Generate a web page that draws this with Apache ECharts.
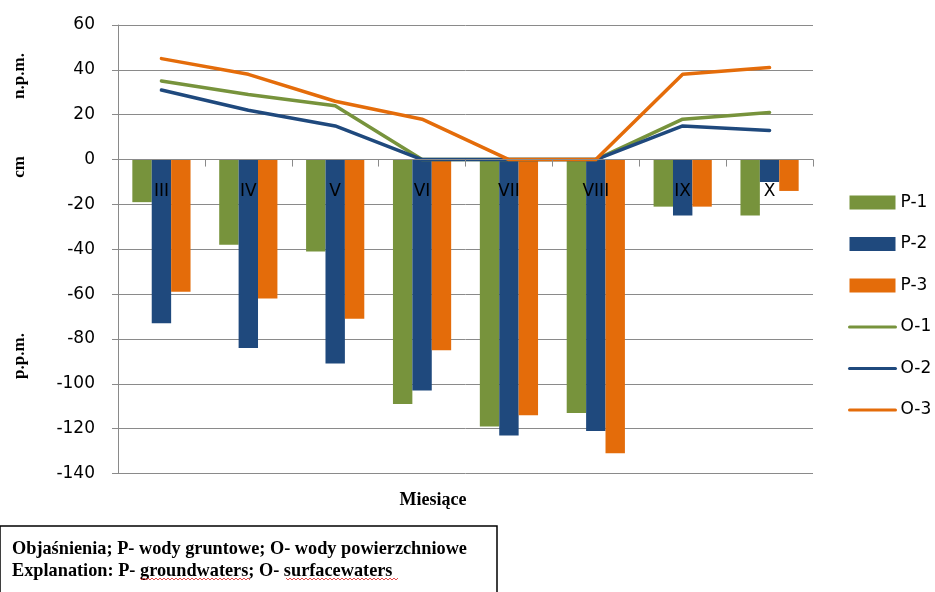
<!DOCTYPE html>
<html>
<head>
<meta charset="utf-8">
<script src="https://cdn.jsdelivr.net/npm/echarts@6/dist/echarts.min.js"></script>
<style>
  html, body { margin: 0; padding: 0; background: #fff; }
  #chart { width: 935px; height: 592px; }
</style>
</head>
<body>
<div id="chart"></div>
<script>
// Months (Roman numerals) on the category axis
const months = ['III', 'IV', 'V', 'VI', 'VII', 'VIII', 'IX', 'X'];

// Groundwater levels (bars), cm below ground
const p1 = [-19, -38, -41, -109, -119, -113, -21, -25];
const p2 = [-73, -84, -91, -103, -123, -121, -25, -10];
const p3 = [-59, -62, -71, -85, -114, -131, -21, -14];

// Surface water levels (lines), cm above ground
const o1 = [35, 29, 24, 0, 0, 0, 18, 21];
const o2 = [31, 22, 15, 0, 0, 0, 15, 13];
const o3 = [45, 38, 26, 18, 0, 0, 38, 41];

// Value axis range
const yMin = -140, yMax = 60, yStep = 20;

const GREEN = '#77933C', BLUE = '#1F497D', ORANGE = '#E46C0A';
const AXIS_GRAY = '#8a8a8a';
const TICK_FONT = 'DejaVu Sans';
const SERIF = 'Liberation Serif';

// Plot area
const GRID_TOP = 25, GRID_BOTTOM = 118.5, CHART_H = 592;
const plotH = CHART_H - GRID_TOP - GRID_BOTTOM;
// distance from the bottom of the plot up to the zero line
const zeroLift = plotH * (0 - yMin) / (yMax - yMin);

const chart = echarts.init(document.getElementById('chart'), null, { renderer: 'canvas' });

function bar(name, data, color) {
  return {
    name, type: 'bar', data,
    barGap: '0%', barCategoryGap: '33%',
    itemStyle: { color },
    z: 2
  };
}
function line(name, data, color) {
  return {
    name, type: 'line', data,
    symbol: 'none',
    lineStyle: { color, width: 3.5, cap: 'round', join: 'round' },
    itemStyle: { color },
    z: 3
  };
}

// Small red wavy underline (spell-check style) under a word
function squiggle(x0, x1, y) {
  const pts = [];
  let up = true;
  for (let x = x0; x <= x1; x += 2) {
    pts.push([x, up ? y : y + 2]);
    up = !up;
  }
  return { type: 'polyline', shape: { points: pts }, style: { stroke: '#e02020', lineWidth: 0.8, fill: null }, silent: true };
}

const vertLabel = (text, x, y) => ({
  type: 'text', x, y, rotation: Math.PI / 2,
  style: { text, font: 'bold 17px "' + SERIF + '"', fill: '#000', align: 'center', verticalAlign: 'middle' }
});

const lineLegend = name => ({ name, itemStyle: { opacity: 0 }, lineStyle: { width: 3 } });

chart.setOption({
  animation: false,
  backgroundColor: '#fff',
  grid: { left: 118, right: 122, top: GRID_TOP, bottom: GRID_BOTTOM, containLabel: false },
  legend: {
    orient: 'vertical',
    left: 843, top: 189,
    itemWidth: 46, itemHeight: 14, itemGap: 24.5,
    textStyle: { fontFamily: TICK_FONT, fontSize: 17, color: '#000' },
    data: [
      { name: 'P-1', icon: 'rect' },
      { name: 'P-2', icon: 'rect' },
      { name: 'P-3', icon: 'rect' },
      lineLegend('O-1'),
      lineLegend('O-2'),
      lineLegend('O-3')
    ]
  },
  xAxis: {
    type: 'category', data: months,
    position: 'bottom',
    offset: -zeroLift,
    z: 10,
    axisLine: { onZero: false, lineStyle: { color: AXIS_GRAY, width: 1 } },
    axisTick: { show: true, length: 7, lineStyle: { color: AXIS_GRAY } },
    axisLabel: { margin: 24, fontFamily: TICK_FONT, fontSize: 17, color: '#000' },
    splitLine: { show: false }
  },
  yAxis: {
    type: 'value', min: yMin, max: yMax, interval: yStep,
    axisLine: { show: true, lineStyle: { color: AXIS_GRAY, width: 1 } },
    axisTick: { show: true, length: 6, lineStyle: { color: AXIS_GRAY } },
    axisLabel: { margin: 23, fontFamily: TICK_FONT, fontSize: 17, color: '#000' },
    splitLine: { show: true, lineStyle: { color: AXIS_GRAY, width: 1 } }
  },
  series: [
    bar('P-1', p1, GREEN),
    bar('P-2', p2, BLUE),
    bar('P-3', p3, ORANGE),
    line('O-1', o1, GREEN),
    line('O-2', o2, BLUE),
    line('O-3', o3, ORANGE)
  ],
  graphic: [
    vertLabel('n.p.m.', 20, 76),
    vertLabel('cm', 20, 167),
    vertLabel('p.p.m.', 20, 356),
    {
      type: 'text', x: 433, y: 500,
      style: { text: 'Miesiące', font: 'bold 18px "' + SERIF + '"', fill: '#000', align: 'center', verticalAlign: 'middle' }
    },
    {
      type: 'rect', shape: { x: 0, y: 526, width: 497, height: 70 },
      style: { fill: '#fff', stroke: '#000', lineWidth: 1.5 }
    },
    {
      type: 'text', x: 12, y: 549,
      style: { text: 'Objaśnienia; P- wody gruntowe; O- wody powierzchniowe', font: 'bold 18.3px "' + SERIF + '"', fill: '#000', align: 'left', verticalAlign: 'middle' }
    },
    {
      type: 'text', x: 12, y: 571,
      style: { text: 'Explanation: P- groundwaters; O- surfacewaters', font: 'bold 18.3px "' + SERIF + '"', fill: '#000', align: 'left', verticalAlign: 'middle' }
    },
    squiggle(140, 250, 578),
    squiggle(286, 398, 578)
  ]
});
</script>
</body>
</html>
